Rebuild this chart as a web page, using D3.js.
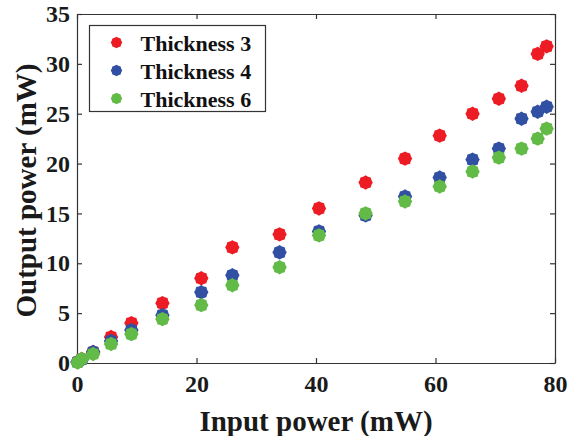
<!DOCTYPE html>
<html>
<head>
<meta charset="utf-8">
<script src="https://cdn.jsdelivr.net/npm/d3@7"></script>
</head>
<body style="margin:0; font-family:'Liberation Serif'; font-weight:bold">
<div id="chart"></div>
<script>
// data
var inputPower = [0.1, 0.8, 2.7, 5.7, 9.1, 14.3, 20.8, 26.0, 33.9, 40.5, 48.3, 54.9, 60.7, 66.2, 70.6, 74.4, 77.1, 78.6];
var thickness3 = [0.1, 0.4, 1.1, 2.6, 4.0, 6.0, 8.5, 11.6, 12.9, 15.5, 18.1, 20.5, 22.8, 25.0, 26.5, 27.8, 31.0, 31.75];
var thickness4 = [0.1, 0.35, 1.1, 2.2, 3.3, 4.8, 7.1, 8.8, 11.1, 13.2, 14.8, 16.7, 18.6, 20.4, 21.5, 24.5, 25.2, 25.7];
var thickness6 = [0.05, 0.4, 0.9, 1.9, 2.9, 4.4, 5.8, 7.8, 9.6, 12.8, 15.0, 16.2, 17.7, 19.2, 20.6, 21.5, 22.5, 23.5];
var seriesNames = ["Thickness 3", "Thickness 4", "Thickness 6"];
var seriesColors = ["#ed1c24", "#3150a3", "#62bb47"];
var xTicks = [0, 20, 40, 60, 80];
var yTicks = [0, 5, 10, 15, 20, 25, 30, 35];

var W = 568, H = 436;
var margin = { top: 14, right: 13, bottom: 73, left: 77 };
var width = W - margin.left - margin.right,
    height = H - margin.top - margin.bottom;
var serif = "Liberation Serif";

var svg = d3.select("#chart").append("svg")
    .attr("width", W).attr("height", H)
    .style("display", "block");
var g = svg.append("g")
    .attr("transform", "translate(" + margin.left + "," + margin.top + ")");

var x = d3.scaleLinear().domain([0, 80]).range([0, width]);
var y = d3.scaleLinear().domain([0, 35]).range([height, 0]);

// axes, ticks pointing inward on all four sides
var axisColor = "#333";
var axes = g.append("g");
axes.append("g").attr("transform", "translate(0," + height + ")")
  .call(d3.axisBottom(x).tickValues(xTicks).tickSizeInner(-5).tickSizeOuter(0).tickPadding(12));
axes.append("g")
  .call(d3.axisLeft(y).tickValues(yTicks).tickSizeInner(-5).tickSizeOuter(0).tickPadding(7));
axes.append("g")
  .call(d3.axisTop(x).tickValues(xTicks).tickSizeInner(-5).tickSizeOuter(0).tickFormat(""));
axes.append("g").attr("transform", "translate(" + width + ",0)")
  .call(d3.axisRight(y).tickValues(yTicks).tickSizeInner(-5).tickSizeOuter(0).tickFormat(""));
axes.selectAll("g").attr("font-family", null).attr("font-size", null);
axes.selectAll(".domain, .tick line").attr("stroke", axisColor).attr("stroke-width", 1.2);
axes.selectAll(".tick text")
  .attr("font-family", serif).attr("font-weight", "bold").attr("font-size", 24)
  .attr("fill", "#1a1a1a");

// jagged round marker
var nPts = 16;
var marker = d3.lineRadial().curve(d3.curveLinearClosed)(
  d3.range(nPts).map(function(i) { return [i * 2 * Math.PI / nPts, i % 2 ? 6.3 : 7.2]; }));

var allSeries = [thickness3, thickness4, thickness6];
allSeries.forEach(function(vals, si) {
  var pts = inputPower.map(function(p, i) { return { x: p, y: vals[i] }; });
  g.append("g").selectAll("path").data(pts).enter().append("path")
    .attr("d", marker)
    .attr("transform", function(d) { return "translate(" + x(d.x) + "," + y(d.y) + ")"; })
    .attr("fill", seriesColors[si]);
});

// legend
var legend = svg.append("g").attr("transform", "translate(89.5,25.5)");
legend.append("rect")
  .attr("width", 176).attr("height", 86)
  .attr("fill", "#fff").attr("stroke", axisColor).attr("stroke-width", 1.2);
seriesNames.forEach(function(name, i) {
  var row = legend.append("g").attr("transform", "translate(0," + (17 + i * 28) + ")");
  row.append("path").attr("d", marker).attr("transform", "translate(27,0) scale(0.8)").attr("fill", seriesColors[i]);
  row.append("text").attr("x", 51).attr("y", 8)
    .attr("font-family", serif).attr("font-weight", "bold")
    .attr("font-size", 22).attr("fill", "#111").text(name);
});

// axis titles
svg.append("text")
  .attr("x", margin.left + width / 2).attr("y", 431)
  .attr("text-anchor", "middle")
  .attr("font-family", serif).attr("font-weight", "bold").attr("font-size", 29)
  .attr("fill", "#1a1a1a")
  .text("Input power (mW)");
svg.append("text")
  .attr("transform", "translate(36," + (margin.top + height / 2 + 2) + ") rotate(-90)")
  .attr("text-anchor", "middle")
  .attr("font-family", serif).attr("font-weight", "bold").attr("font-size", 29)
  .attr("fill", "#1a1a1a")
  .text("Output power (mW)");
</script>
</body>
</html>
